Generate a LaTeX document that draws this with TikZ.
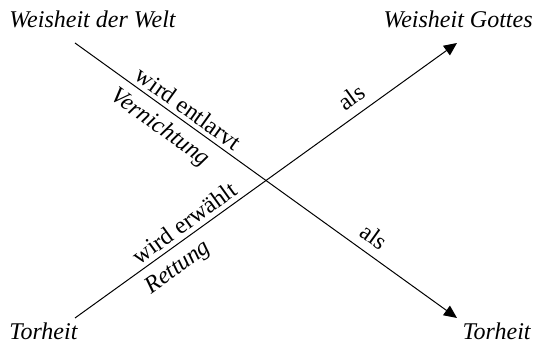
\documentclass[tikz,border=0pt,12pt]{standalone}
\usepackage{fontspec}
\setmainfont{Liberation Serif}
\usetikzlibrary{arrows.meta}

\begin{document}
\begin{tikzpicture}[x=0.5pt, y=0.5pt,
    pole/.style={inner sep=0pt, font=\itshape},
    rel/.style={inner sep=0pt, sloped},
    arrowline/.style={line width=0.5pt, -{Triangle[length=6.5pt, width=5.8pt]}}]
  \useasboundingbox (0,0) rectangle (535,347);

  % the four poles
  \node[pole, anchor=base west] (weltw) at (9,319) {Weisheit der Welt};
  \node[pole, anchor=base east] (gottw) at (533,319) {Weisheit Gottes};
  \node[pole, anchor=base west] (torl) at (9,7) {Torheit};
  \node[pole, anchor=base east] (torr) at (531,7) {Torheit};

  % line ends
  \coordinate (s1) at (75,304);
  \coordinate (e1) at (457,29);
  \coordinate (s2) at (75,29);
  \coordinate (e2) at (457,304);

  % Weisheit der Welt -> Torheit
  \draw[arrowline] (s1) -- (e1)
    node[rel, pos=0.277, above=2.2pt] (entl) {wird entlarvt}
    node[rel, pos=0.252, below=4pt, font=\itshape] (vern) {Vernichtung}
    node[rel, pos=0.757, above=4.4pt] (als1) {als};

  % Torheit -> Weisheit Gottes
  \draw[arrowline] (s2) -- (e2)
    node[rel, pos=0.307, above=2.2pt] (erw) {wird erwählt}
    node[rel, pos=0.24, below=4.5pt, font=\itshape] (rett) {Rettung}
    node[rel, pos=0.75, above=4.4pt] (als2) {als};
\end{tikzpicture}
\end{document}
